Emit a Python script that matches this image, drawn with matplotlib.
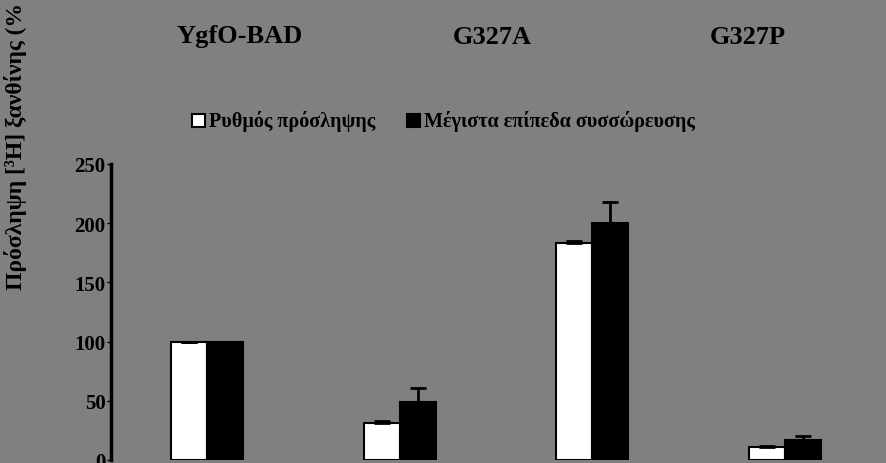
import matplotlib
matplotlib.use("Agg")
import matplotlib.pyplot as plt
from matplotlib.patches import Rectangle
import numpy as np

groups = ["YgfO-BAD", "G327A", "G327P", "G327X"]
rate = [100, 31, 183, 11]
rate_err = [0, 2, 2, 1]
maxlev = [100, 49, 200, 17]
maxlev_err = [0, 12, 18, 3]
top_titles = ["YgfO-BAD", "G327A", "G327P"]
series_names = ["Ρυθμός πρόσληψης", "Μέγιστα επίπεδα συσσώρευσης"]
yticks = [0, 50, 100, 150, 200, 250]

W, H = 886, 464
bg = "#808080"
fig = plt.figure(figsize=(W/100, H/100), dpi=100, facecolor=bg)
plt.rcParams["font.family"] = "Liberation Serif"
plt.rcParams["font.weight"] = "bold"

ax = fig.add_axes([111/W, 3/H, 775/W, 296/H])
ax.set_facecolor(bg)
x = np.arange(len(groups)) + 0.5
w = 0.187
ekw = dict(ecolor="black", capsize=6, capthick=2, elinewidth=2)
ax.bar(x - w/2, rate, w, color="white", edgecolor="black", linewidth=1.5,
       yerr=[np.zeros(len(rate)), rate_err], error_kw=ekw)
ax.bar(x + w/2, maxlev, w, color="black", edgecolor="black", linewidth=1.5,
       yerr=[np.zeros(len(maxlev)), maxlev_err], error_kw=ekw)
ax.set_xlim(0, 775/192.5)
ax.set_ylim(0, 250)
ax.set_yticks(yticks)
ax.set_yticklabels([str(v) for v in yticks], fontsize=15, fontweight="bold")
ax.tick_params(axis="y", length=3, width=1, pad=1, colors="black")
ax.set_xticks([])
for s in ["top", "right", "bottom"]:
    ax.spines[s].set_visible(False)
ax.spines["left"].set_linewidth(2.5)

for t, px in zip(top_titles, [240, 492, 748]):
    fig.text(px/W, 1-37/H, t, ha="center", va="center", fontsize=19, fontweight="bold")

fig.patches.append(Rectangle((192/W, 1-128/H), 13/W, 13/H, transform=fig.transFigure,
                             facecolor="white", edgecolor="black", linewidth=1.5))
fig.text(209/W, 1-121/H, series_names[0], ha="left", va="center", fontsize=14.5, fontweight="bold")
fig.patches.append(Rectangle((407/W, 1-128/H), 13/W, 13/H, transform=fig.transFigure,
                             facecolor="black", edgecolor="black", linewidth=1.5))
fig.text(424/W, 1-121/H, series_names[1], ha="left", va="center", fontsize=14.5, fontweight="bold")

fig.text(16/W, 1-290/H, "Πρόσληψη [³H] ξανθίνης (% YgfO-BAD)", rotation=90,
         ha="center", va="bottom", fontsize=17, fontweight="bold")

fig.savefig("out.png", dpi=100, facecolor=bg)
